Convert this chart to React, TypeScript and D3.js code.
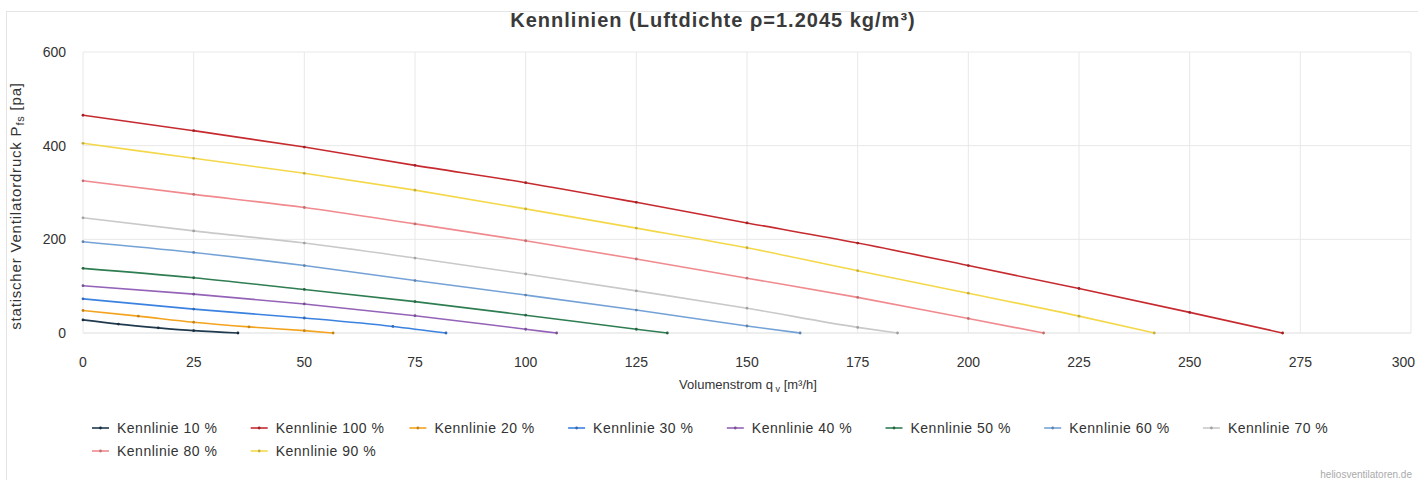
import * as d3 from 'd3';

// --- Data ---
const seriesNames = [
    'Kennlinie 10 %', 'Kennlinie 100 %', 'Kennlinie 20 %', 'Kennlinie 30 %', 'Kennlinie 40 %',
    'Kennlinie 50 %', 'Kennlinie 60 %', 'Kennlinie 70 %', 'Kennlinie 80 %', 'Kennlinie 90 %'
];
const seriesColors = [
    '#1f3a4f', '#c62a2f', '#f3a31d', '#3b82e0', '#9463b8',
    '#2f7d52', '#74a2d6', '#c9c9c9', '#f08a8e', '#f4d84a'
];

// [volume flow m³/h, static pressure Pa]
const curve10 = [[0, 28], [8, 19], [17, 11], [25, 5], [35, 0]];
const curve20 = [[0, 48], [12.5, 36], [25, 23], [37.5, 13], [50, 5], [56.5, 0]];
const curve30 = [[0, 73], [25, 51], [50, 32], [70, 14], [82, 0]];
const curve40 = [[0, 101], [25, 83], [50, 62], [75, 37], [100, 8], [107, 0]];
const curve50 = [[0, 138], [25, 118], [50, 93], [75, 67], [100, 38], [125, 8], [132, 0]];
const curve60 = [[0, 195], [25, 172], [50, 144], [75, 112], [100, 81], [125, 49], [150, 15], [162, 0]];
const curve70 = [[0, 246], [25, 218], [50, 192], [75, 160], [100, 126], [125, 90], [150, 53], [175, 12], [184, 0]];
const curve80 = [[0, 325], [25, 296], [50, 268], [75, 233], [100, 197], [125, 158], [150, 117], [175, 76], [200, 31], [217, 0]];
const curve90 = [[0, 405], [25, 373], [50, 341], [75, 305], [100, 265], [125, 224], [150, 182], [175, 133], [200, 85], [225, 36], [242, 0]];
const curve100 = [[0, 465], [25, 432], [50, 397], [75, 358], [100, 321], [125, 279], [150, 235], [175, 192], [200, 144], [225, 95], [250, 44], [271, 0]];

const seriesData = [curve10, curve100, curve20, curve30, curve40, curve50, curve60, curve70, curve80, curve90];

const xTicks = [0, 25, 50, 75, 100, 125, 150, 175, 200, 225, 250, 275, 300];
const yTicks = [0, 200, 400, 600];

const W = 1418;
const H = 480;
const FONT = 'Liberation Sans, Arial, sans-serif';

export default function App() {
    const x = d3.scaleLinear().domain([0, 300]).range([83, 1411]);
    const y = d3.scaleLinear().domain([0, 600]).range([333, 52]);

    const line = d3.line<number[]>()
        .x(d => x(d[0]))
        .y(d => y(d[1]))
        .curve(d3.curveMonotoneX);

    const legendX0 = 92;
    const legendStep = 158.7;
    const dot = (c: string) => d3.color(c)!.darker(0.6).toString();

    return (
        <svg width={W} height={H} style={{ position: 'absolute', left: 0, top: 0, background: '#fff' }}>
            {/* card frame */}
            <rect x={6.5} y={11.5} width={W} height={H} fill="none" stroke="#e4e4e4" />

            <text x={713} y={27} textAnchor="middle" fontFamily={FONT} fontWeight="bold" fontSize={20} letterSpacing={1} fill="#3a3a3a">
                Kennlinien (Luftdichte ρ=1.2045 kg/m³)
            </text>

            {/* grid */}
            {xTicks.map(t => (
                <line key={'gx' + t} x1={x(t)} x2={x(t)} y1={y(600)} y2={y(0)} stroke="#e8e8e8" />
            ))}
            {yTicks.map(t => (
                <line key={'gy' + t} x1={x(0)} x2={x(300)} y1={y(t)} y2={y(t)} stroke="#e8e8e8" strokeWidth={t === 0 ? 1.5 : 1} />
            ))}

            {/* tick labels */}
            {yTicks.map(t => (
                <text key={'ty' + t} x={66} y={y(t) + 5} textAnchor="end" fontFamily={FONT} fontSize={14} fill="#333">{t}</text>
            ))}
            {xTicks.map((t, i) => (
                <text key={'tx' + t}
                      x={i === xTicks.length - 1 ? W - 3 : x(t)} y={367}
                      textAnchor={i === xTicks.length - 1 ? 'end' : 'middle'}
                      fontFamily={FONT} fontSize={14} fill="#333">{t}</text>
            ))}

            {/* axis titles */}
            <text x={748} y={389} textAnchor="middle" fontFamily={FONT} fontSize={13} fill="#333">
                Volumenstrom q<tspan fontSize={9} dy={3}> v</tspan><tspan dy={-3}> [m³/h]</tspan>
            </text>
            <text transform="translate(21,206) rotate(-90)" textAnchor="middle" fontFamily={FONT} fontSize={15} letterSpacing={0.8} fill="#333">
                statischer Ventilatordruck P<tspan fontSize={11} dy={3}>fs</tspan><tspan dy={-3}> [pa]</tspan>
            </text>

            {/* curves */}
            {seriesData.map((pts, i) => (
                <g key={'s' + i}>
                    <path d={line(pts) || ''} fill="none" stroke={seriesColors[i]} strokeWidth={1.6} />
                    {pts.map((p, j) => (
                        <circle key={j} cx={x(p[0])} cy={y(p[1])} r={1.4} fill={dot(seriesColors[i])} />
                    ))}
                </g>
            ))}

            {/* legend */}
            {seriesNames.map((name, i) => {
                const row = i < 8 ? 0 : 1;
                const col = i < 8 ? i : i - 8;
                const lx = legendX0 + col * legendStep;
                const ly = row === 0 ? 428 : 451;
                return (
                    <g key={'l' + i}>
                        <line x1={lx} x2={lx + 17} y1={ly} y2={ly} stroke={seriesColors[i]} strokeWidth={1.6} />
                        <circle cx={lx + 8.5} cy={ly} r={1.4} fill={dot(seriesColors[i])} />
                        <text x={lx + 25} y={ly + 5} fontFamily={FONT} fontSize={14} letterSpacing={0.5} fill="#333">{name}</text>
                    </g>
                );
            })}

            <text x={1412} y={478} textAnchor="end" fontFamily={FONT} fontSize={10} fill="#aaa">heliosventilatoren.de</text>
        </svg>
    );
}
